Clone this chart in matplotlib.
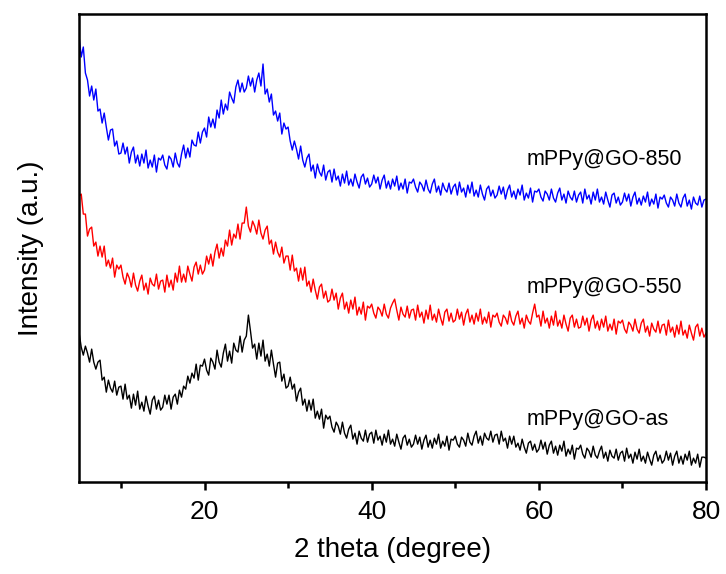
import numpy as np
import matplotlib
matplotlib.use("Agg")
import matplotlib.pyplot as plt
from matplotlib.ticker import MultipleLocator

plt.rcParams.update({
    "font.family": ["Liberation Sans", "DejaVu Sans"],
    "axes.linewidth": 1.8,
})

# 2 theta grid, 0.25 degree steps from 5 to 80
two_theta = np.linspace(5, 80, 301)

# intensities (a.u.), one row per 5 degrees
go_850 = [
    445, 425, 435, 409, 402, 386, 396, 382, 393, 371, 373, 359, 369, 355, 342, 352, 353, 336, 341, 328,
    329, 339, 328, 335, 319, 330, 335, 319, 327, 316, 328, 319, 332, 314, 322, 315, 327, 310, 324, 322,
    327, 317, 313, 326, 323, 315, 329, 319, 315, 328, 337, 324, 334, 325, 342, 337, 336, 350, 339, 350,
    354, 345, 365, 355, 363, 354, 372, 364, 382, 368, 378, 372, 390, 384, 379, 395, 402, 390, 399, 390,
    394, 406, 396, 404, 390, 402, 409, 396, 418, 388, 393, 380, 388, 367, 371, 361, 369, 348, 359, 353,
    355, 341, 332, 341, 333, 323, 336, 322, 315, 324, 328, 311, 317, 304, 318, 310, 306, 317, 302, 310,
    312, 300, 313, 302, 306, 296, 308, 299, 311, 297, 303, 296, 308, 300, 294, 305, 308, 298, 304, 295,
    298, 307, 299, 305, 293, 302, 307, 294, 301, 293, 303, 296, 306, 292, 299, 293, 303, 289, 300, 299,
    303, 295, 290, 300, 297, 291, 302, 293, 289, 298, 303, 290, 296, 287, 299, 293, 290, 299, 288, 295,
    298, 287, 300, 290, 294, 285, 297, 289, 300, 286, 292, 285, 297, 288, 282, 293, 296, 286, 292, 284,
    287, 296, 288, 295, 283, 292, 297, 285, 291, 283, 293, 287, 297, 282, 289, 284, 294, 280, 291, 290,
    293, 285, 281, 291, 288, 282, 293, 284, 280, 289, 294, 282, 288, 279, 291, 285, 282, 291, 280, 287,
    290, 279, 293, 283, 287, 278, 290, 282, 293, 280, 285, 278, 290, 282, 275, 287, 289, 279, 285, 277,
    280, 289, 281, 288, 276, 285, 290, 278, 284, 277, 286, 280, 290, 276, 283, 278, 288, 274, 285, 283,
    287, 279, 275, 285, 282, 276, 288, 279, 275, 284, 288, 276, 282, 273, 285, 279, 277, 286, 275, 282,
    283,
]
go_550 = [
    286, 288, 268, 268, 246, 253, 255, 236, 240, 226, 236, 225, 236, 216, 222, 214, 224, 205, 217, 213,
    217, 205, 198, 209, 204, 195, 209, 197, 191, 201, 207, 192, 199, 188, 204, 198, 196, 208, 193, 201,
    202, 190, 207, 195, 202, 192, 209, 200, 216, 200, 208, 200, 216, 208, 201, 215, 220, 208, 217, 208,
    212, 226, 218, 228, 216, 230, 238, 224, 234, 226, 242, 236, 252, 237, 248, 244, 258, 243, 259, 259,
    275, 256, 250, 261, 256, 248, 262, 249, 243, 252, 256, 238, 242, 228, 240, 230, 225, 235, 219, 226,
    226, 212, 227, 211, 214, 201, 214, 202, 215, 196, 201, 190, 203, 192, 183, 195, 198, 184, 191, 180,
    182, 193, 182, 189, 173, 184, 189, 173, 180, 169, 182, 173, 185, 167, 175, 168, 180, 162, 176, 174,
    178, 169, 164, 175, 172, 166, 178, 168, 164, 174, 179, 183, 172, 162, 175, 168, 165, 176, 164, 172,
    173, 162, 177, 165, 170, 159, 172, 163, 177, 162, 168, 160, 173, 164, 157, 170, 173, 161, 169, 160,
    162, 173, 163, 170, 157, 168, 173, 160, 167, 158, 169, 161, 173, 158, 165, 159, 170, 155, 167, 165,
    169, 160, 156, 167, 164, 158, 171, 161, 157, 166, 171, 158, 164, 154, 167, 161, 158, 169, 178, 165,
    167, 156, 171, 159, 164, 154, 166, 157, 171, 156, 162, 154, 167, 158, 151, 164, 167, 155, 163, 154,
    155, 166, 157, 164, 151, 162, 167, 154, 161, 152, 163, 155, 166, 151, 158, 152, 163, 148, 161, 159,
    162, 153, 149, 160, 157, 151, 163, 153, 149, 159, 163, 150, 156, 146, 159, 153, 150, 161, 149, 157,
    158, 147, 162, 150, 155, 145, 157, 148, 161, 147, 152, 144, 157, 149, 142, 155, 158, 146, 154, 145,
    149,
]
go_as = [
    149, 135, 127, 136, 129, 120, 133, 120, 113, 120, 122, 102, 105, 90, 102, 94, 90, 101, 87, 95,
    96, 83, 98, 83, 87, 74, 88, 77, 91, 73, 80, 71, 86, 76, 68, 82, 86, 73, 82, 72,
    75, 87, 78, 87, 73, 85, 88, 78, 92, 85, 96, 93, 106, 99, 109, 104, 118, 102, 117, 116,
    123, 112, 107, 124, 120, 113, 132, 120, 115, 129, 138, 121, 131, 119, 139, 132, 130, 146, 130, 142,
    146, 167, 151, 134, 138, 123, 139, 126, 142, 121, 128, 116, 132, 118, 105, 119, 120, 101, 108, 94,
    96, 105, 93, 98, 81, 90, 94, 77, 83, 71, 82, 72, 83, 64, 71, 63, 73, 54, 67, 63,
    66, 55, 50, 60, 56, 48, 60, 49, 44, 53, 57, 43, 49, 38, 51, 44, 41, 52, 40, 48,
    50, 39, 52, 42, 46, 37, 48, 40, 52, 38, 43, 36, 48, 40, 33, 44, 47, 37, 43, 35,
    38, 47, 38, 45, 33, 42, 47, 35, 42, 34, 44, 38, 48, 34, 41, 36, 46, 32, 43, 42,
    46, 38, 35, 45, 42, 36, 49, 40, 37, 46, 51, 39, 46, 37, 49, 44, 42, 51, 40, 47,
    48, 38, 51, 41, 44, 34, 46, 38, 46, 35, 39, 32, 43, 35, 29, 39, 41, 32, 38, 30,
    33, 42, 33, 40, 28, 37, 41, 29, 36, 27, 37, 31, 41, 26, 33, 28, 37, 23, 34, 33,
    37, 28, 24, 34, 31, 25, 36, 27, 24, 31, 36, 24, 30, 21, 32, 26, 24, 33, 22, 29,
    31, 21, 34, 24, 28, 19, 30, 23, 33, 21, 26, 19, 30, 23, 17, 27, 31, 21, 27, 19,
    22, 31, 22, 29, 17, 26, 31, 19, 26, 18, 28, 22, 31, 17, 24, 19, 28, 15, 25, 25,
    24,
]

series = [
    (go_850, "#0000ff", "mPPy@GO-850", 323),
    (go_550, "#ff0000", "mPPy@GO-550", 195),
    (go_as,  "#000000", "mPPy@GO-as",   63),
]

fig = plt.figure(figsize=(7.26, 5.74), dpi=100)
ax = fig.add_axes([0.109, 0.160, 0.8635, 0.8156])

for y, color, label, ly in series:
    ax.plot(two_theta, y, color=color, linewidth=1.0)
    ax.text(58.5, ly, label, fontsize=15.5, va="center", ha="left")

ax.set_xlim(5, 80)
ax.set_ylim(0, 468)
ax.xaxis.set_major_locator(MultipleLocator(20))
ax.xaxis.set_minor_locator(MultipleLocator(10))
ax.tick_params(axis="x", which="both", direction="out", width=1.8, labelsize=19, pad=7)
ax.tick_params(axis="x", which="major", length=6)
ax.tick_params(axis="x", which="minor", length=4)
ax.set_yticks([])
ax.set_xlabel("2 theta (degree)", fontsize=20, labelpad=9)
ax.set_ylabel("Intensity (a.u.)", fontsize=20, labelpad=25)

fig.savefig("out.png", dpi=100)
